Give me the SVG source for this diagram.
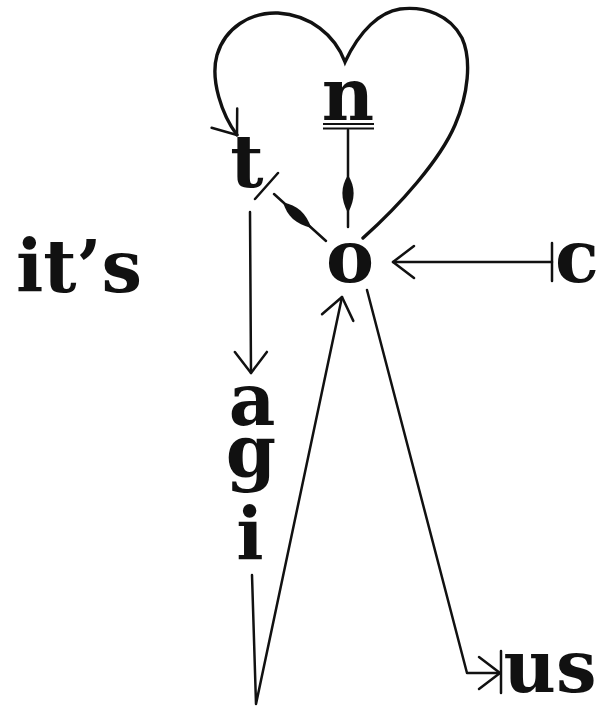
<svg xmlns="http://www.w3.org/2000/svg" width="604" height="710" viewBox="0 0 604 710">
<style>
.lbl{font-family:"DejaVu Serif","Liberation Serif",serif;font-weight:bold;font-size:72px;fill:#111;text-anchor:middle}
.ln{fill:none;stroke:#111;stroke-width:2.5;stroke-linecap:round;stroke-linejoin:round}
.heart{fill:none;stroke:#111;stroke-width:3.4;stroke-linecap:round}
.sp{fill:#111;stroke:none}
</style>
<defs>
<marker id="arr" markerUnits="userSpaceOnUse" markerWidth="40" markerHeight="40" viewBox="-30 -20 34 40" refX="0" refY="0" orient="auto" overflow="visible">
<path d="M -21 -16 L 0 0 L -21 16" fill="none" stroke="#111" stroke-width="2.5" stroke-linecap="round" stroke-linejoin="round"/>
</marker>
<path id="spindle" d="M -20 0 C -8 -7.5 4 -7.5 18 0 C 4 7.5 -8 7.5 -20 0 Z"/>
</defs>
<rect width="604" height="710" fill="#fff"/>
<g id="node-its"><text class="lbl" x="79" y="292">it’s</text></g>
<g id="node-t"><text class="lbl" x="247" y="187">t</text></g>
<g id="node-n"><text class="lbl" x="348" y="120">n</text>
<line x1="323" y1="124" x2="374" y2="124" stroke="#111" stroke-width="2"/>
<line x1="323" y1="128.5" x2="374" y2="128.5" stroke="#111" stroke-width="2"/></g>
<g id="node-o"><text class="lbl" x="350" y="282">o</text></g>
<g id="node-c"><text class="lbl" x="577" y="282">c</text></g>
<g id="node-agi"><text class="lbl"><tspan x="252" y="425">a</tspan><tspan x="251" y="477">g</tspan><tspan x="250" y="560">i</tspan></text></g>
<g id="node-us"><text class="lbl" x="550" y="692">us</text></g>
<g id="connectors">
<path class="heart" marker-end="url(#arr)" d="M 363 238 C 400 205, 440 160, 455 125 C 468 95, 472 60, 462 38 C 450 15, 425 6, 400 9 C 380 12, 360 30, 345 62 C 335 35, 310 15, 278 13 C 250 12, 225 28, 217 55 C 210 80, 222 115, 237 135"/>
<line class="ln" x1="348" y1="130" x2="348" y2="227"/>
<use href="#spindle" class="sp" transform="translate(348 195) rotate(90)"/>
<line class="ln" x1="274" y1="194" x2="326" y2="241"/>
<use href="#spindle" class="sp" transform="translate(298 216) rotate(42)"/>
<line class="ln" x1="255" y1="199" x2="278" y2="173"/>
<line class="ln" marker-end="url(#arr)" x1="250" y1="212" x2="251" y2="373"/>
<line class="ln" x1="552" y1="243" x2="552" y2="281"/>
<line class="ln" marker-end="url(#arr)" x1="552" y1="262" x2="393" y2="262"/>
<path class="ln" marker-end="url(#arr)" d="M 252 575 L 256 704 L 342 297"/>
<path class="ln" marker-end="url(#arr)" d="M 367 290 L 467 673 L 500 673"/>
<line class="ln" x1="501" y1="651" x2="501" y2="693"/>
</g>
</svg>
